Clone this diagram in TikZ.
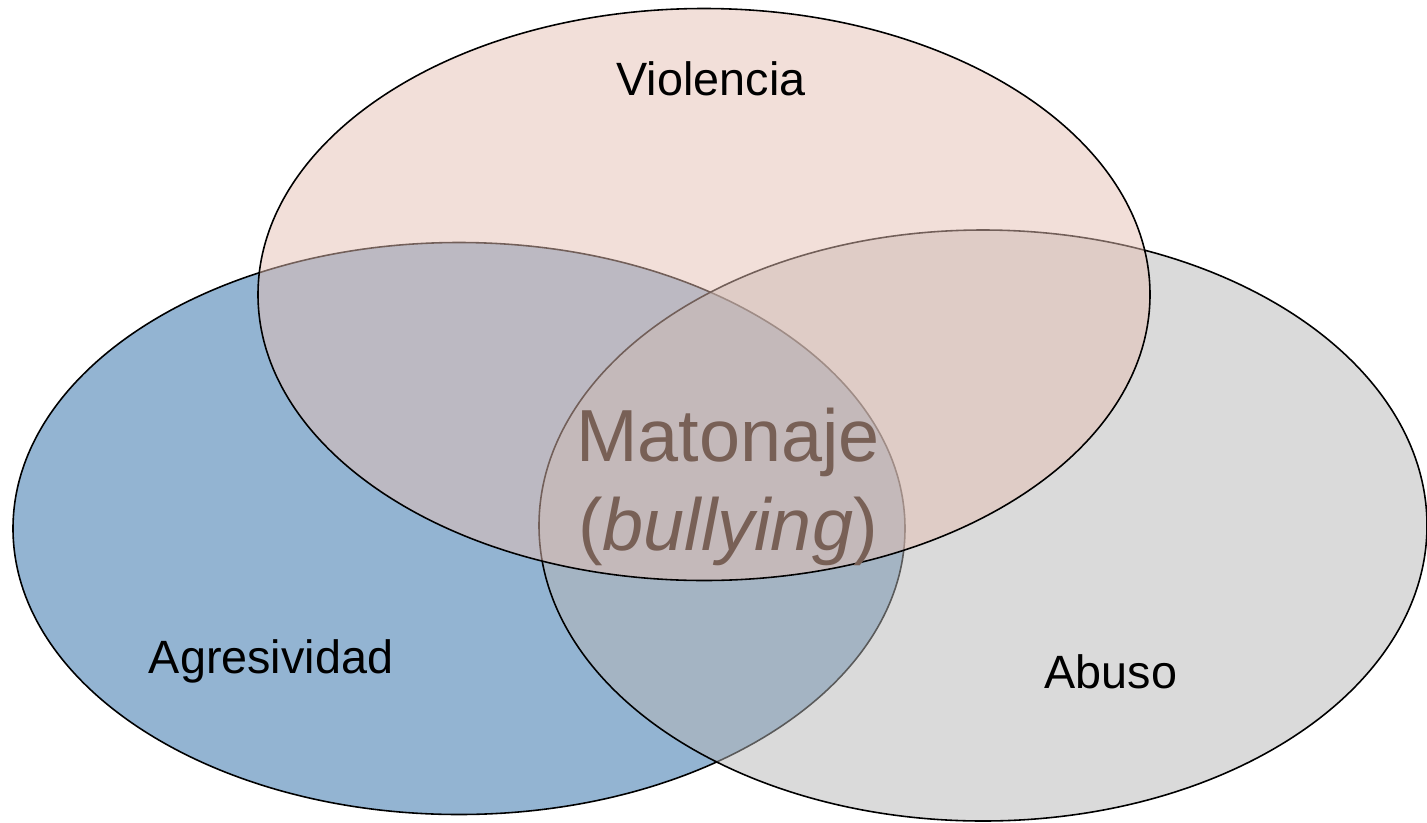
\documentclass[tikz,border=0pt]{standalone}
\usepackage{fontspec}
\setmainfont{Liberation Sans}
\usetikzlibrary{positioning}
\definecolor{agrblue}{RGB}{147,180,210}
\definecolor{abugray}{RGB}{181,181,181}
\definecolor{vioPink}{RGB}{229,191,179}
\definecolor{matBrown}{RGB}{120,96,86}

\begin{document}
\begin{tikzpicture}[x = 0.02cm, y = -0.02cm]
    \tikzset{set/.style = {draw = black, line width = 0.9pt},
             setlabel/.style = {font = \fontsize{26.6}{32}\selectfont, anchor = base, inner sep = 0pt},
             core/.style = {font = \fontsize{42}{50}\selectfont, anchor = base, inner sep = 0pt, color = matBrown}}
    \useasboundingbox (0,0) rectangle (1427,822);

    % centres of the three sets
    \coordinate (cAgr) at (459,528.5);
    \coordinate (cAbu) at (983,525.5);
    \coordinate (cVio) at (704,294.5);

    \filldraw[set, fill = agrblue] (cAgr) ellipse[x radius = 446, y radius = 286];
    \filldraw[set, fill = abugray, fill opacity = 0.5] (cAbu) ellipse[x radius = 444, y radius = 295.5];
    \filldraw[set, fill = vioPink, fill opacity = 0.5] (cVio) ellipse[x radius = 446, y radius = 286];

    \node[setlabel] (Vio) at (711,95) {Violencia};
    \node[setlabel] (Agr) at (271,673) {Agresividad};
    \node[setlabel] (Abu) at (1111,688) {Abuso};

    % the common part
    \node[core] (Mat) at (728,461) {Matonaje};
    \node[core] (Bul) at (728,550) {(\textit{bullying})};
\end{tikzpicture}
\end{document}
